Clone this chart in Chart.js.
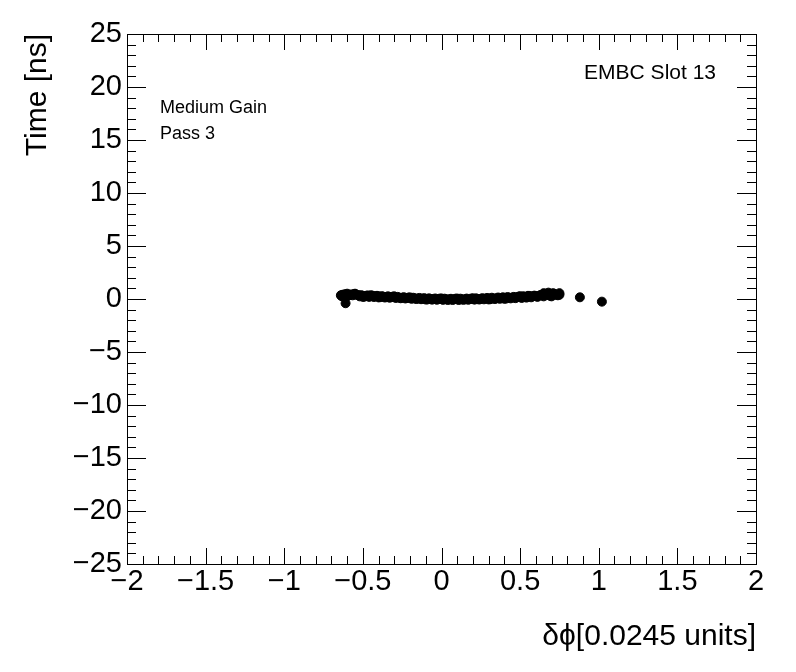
<!DOCTYPE html>
<html>
<head>
<meta charset="utf-8">
<title>EMBC Slot 13</title>
<script src="https://cdn.jsdelivr.net/npm/chart.js@4.4.1/dist/chart.umd.min.js"></script>
<style>
  html, body { margin: 0; padding: 0; background: #fff; }
  canvas { display: block; }
</style>
</head>
<body>
<canvas id="myChart" width="796" height="672"></canvas>
<script>
/* globals Chart:false */

// delta phi positions [0.0245 units]
const phiValues = [
  -0.64, -0.63, -0.62, -0.61, -0.6, -0.59, -0.58, -0.56, -0.55, -0.53,
  -0.5, -0.48, -0.45, -0.42, -0.4, -0.37, -0.35, -0.32, -0.3, -0.27,
  -0.25, -0.22, -0.2, -0.17, -0.15, -0.12, -0.1, -0.07, -0.05, -0.02,
  0, 0.03, 0.05, 0.08, 0.1, 0.13, 0.15, 0.18, 0.2, 0.23,
  0.25, 0.28, 0.3, 0.33, 0.35, 0.38, 0.4, 0.43, 0.45, 0.48,
  0.5, 0.53, 0.55, 0.58, 0.6, 0.62, 0.64, 0.66, 0.68, 0.7,
  0.71, 0.73, 0.75, 0.88, 1.02,
  // spread around the band
  -0.63, -0.61, -0.6, -0.55, -0.5, -0.45, -0.4, -0.3, -0.2, -0.1,
  0, 0.1, 0.2, 0.3, 0.4, 0.5, 0.55, 0.65, 0.68, 0.7, 0.72, 0.75,
  -0.635, -0.615, -0.595, -0.575, -0.565, -0.545, -0.52, -0.51, -0.49, -0.47,
  -0.46, -0.44, -0.43, -0.41, -0.39, -0.38, -0.36, -0.34, -0.33, -0.31,
  -0.29, -0.28, -0.26, -0.24, -0.23, -0.21, -0.19, -0.18, -0.16, -0.14,
  -0.13, -0.11, -0.09, -0.08, -0.06, -0.04, -0.03, -0.01, 0.01, 0.02,
  0.04, 0.06, 0.07, 0.09, 0.11, 0.12, 0.14, 0.16, 0.17, 0.19,
  0.21, 0.22, 0.24, 0.26, 0.27, 0.29, 0.31, 0.32, 0.34, 0.36,
  0.37, 0.39, 0.41, 0.42, 0.44, 0.46, 0.47, 0.49, 0.51, 0.52,
  0.54, 0.56, 0.57, 0.59, 0.61, 0.63, 0.65, 0.67, 0.69, 0.72, 0.74
]
// time [ns]
const timeValues = [
  0.35, 0.4, 0.3, 0.38, 0.42, 0.35, 0.4, 0.45, 0.48, 0.38,
  0.3, 0.3, 0.28, 0.27, 0.25, 0.22, 0.2, 0.18, 0.16, 0.14,
  0.12, 0.1, 0.08, 0.06, 0.05, 0.03, 0.02, 0.01, 0.0, -0.01,
  -0.02, -0.02, -0.03, -0.03, -0.03, -0.03, -0.02, -0.02, -0.01, 0.0,
  0.01, 0.03, 0.04, 0.05, 0.07, 0.08, 0.1, 0.12, 0.14, 0.16,
  0.18, 0.2, 0.22, 0.25, 0.28, 0.3, 0.35, 0.4, 0.5, 0.42,
  0.55, 0.4, 0.55, 0.16, -0.25,
  0.25, -0.4, 0.5, 0.5, 0.2, 0.35, 0.15, 0.25, 0.15, -0.05,
  0.05, 0.04, 0.06, -0.04, 0.02, 0.26, 0.3, 0.55, 0.6, 0.25, 0.45, 0.4,
  0.28, 0.45, 0.3, 0.42, 0.35, 0.4, 0.25, 0.36, 0.22, 0.34,
  0.2, 0.32, 0.19, 0.3, 0.17, 0.27, 0.14, 0.25, 0.12, 0.22,
  0.1, 0.2, 0.07, 0.17, 0.05, 0.14, 0.02, 0.12, 0.0, 0.1,
  -0.02, 0.08, -0.04, 0.06, -0.06, 0.05, -0.07, 0.04, -0.08, 0.03,
  -0.09, 0.02, -0.09, 0.03, -0.09, 0.03, -0.08, 0.04, -0.07, 0.05,
  -0.06, 0.06, -0.05, 0.08, -0.03, 0.1, -0.02, 0.12, 0.0, 0.14,
  0.02, 0.16, 0.04, 0.18, 0.06, 0.2, 0.08, 0.23, 0.1, 0.26,
  0.13, 0.29, 0.16, 0.32, 0.2, 0.38, 0.25, 0.5, 0.3, 0.45, 0.35
]

const xTickValues = [-2, -1.5, -1, -0.5, 0, 0.5, 1, 1.5, 2]
const yTickValues = [-25, -20, -15, -10, -5, 0, 5, 10, 15, 20, 25]

const labelLines = ['Medium Gain', 'Pass 3']
const slotLabel = 'EMBC Slot 13'

const FONT = '"Liberation Sans", Arial, Helvetica, sans-serif'
const minus = v => (v < 0 ? '\u2212' + Math.abs(v) : String(v))

const points = phiValues.map((x, i) => ({ x: x, y: timeValues[i] }))

// frame + inward ticks on all four sides, ROOT style
const frameTicks = {
  id: 'frameTicks',
  afterDraw(chart) {
    const { ctx, chartArea: a, scales: { x, y } } = chart
    ctx.save()
    ctx.strokeStyle = '#000'
    ctx.lineWidth = 1
    ctx.beginPath()
    for (let i = -20; i <= 20; i++) {
      const v = i / 10
      const px = Math.round(x.getPixelForValue(v)) + 0.5
      const len = i % 5 === 0 ? 16 : 8
      ctx.moveTo(px, a.bottom); ctx.lineTo(px, a.bottom - len)
      ctx.moveTo(px, a.top); ctx.lineTo(px, a.top + len)
    }
    for (let v = -25; v <= 25; v++) {
      const py = Math.round(y.getPixelForValue(v)) + 0.5
      const len = v % 5 === 0 ? 19 : 9
      ctx.moveTo(a.left, py); ctx.lineTo(a.left + len, py)
      ctx.moveTo(a.right, py); ctx.lineTo(a.right - len, py)
    }
    ctx.stroke()
    ctx.strokeRect(Math.round(a.left) + 0.5, Math.round(a.top) + 0.5,
      Math.round(a.right - a.left), Math.round(a.bottom - a.top))

    ctx.fillStyle = '#000'
    ctx.textBaseline = 'middle'
    ctx.textAlign = 'left'
    ctx.font = '18px ' + FONT
    ctx.fillText(labelLines[0], a.left + 33, 108)
    ctx.fillText(labelLines[1], a.left + 33, 134)
    ctx.font = '21px ' + FONT
    ctx.textAlign = 'right'
    ctx.fillText(slotLabel, a.right - 40, 73)
    ctx.restore()
  }
}

new Chart(document.getElementById('myChart'), {
  type: 'scatter',
  data: {
    datasets: [{
      data: points,
      backgroundColor: '#000',
      borderColor: '#000',
      pointRadius: 4.5,
      pointHoverRadius: 4.5
    }]
  },
  options: {
    responsive: false,
    animation: false,
    events: [],
    layout: { padding: { top: 34, right: 40, left: 0, bottom: 0 } },
    plugins: { legend: { display: false }, tooltip: { enabled: false } },
    scales: {
      x: {
        type: 'linear',
        min: -2,
        max: 2,
        afterFit: s => { s.height = 108 },
        afterBuildTicks: s => { s.ticks = xTickValues.map(v => ({ value: v })) },
        grid: { display: false, drawTicks: false },
        border: { display: false },
        ticks: {
          padding: 1,
          autoSkip: false,
          maxRotation: 0,
          color: '#000',
          font: { family: FONT, size: 29 },
          callback: minus
        },
        title: {
          display: true,
          text: '\u03b4\u03d5[0.0245 units]',
          align: 'end',
          color: '#000',
          font: { family: FONT, size: 30 },
          padding: { top: 0, bottom: 17 }
        }
      },
      y: {
        type: 'linear',
        min: -25,
        max: 25,
        afterFit: s => { s.width = 127 },
        afterBuildTicks: s => { s.ticks = yTickValues.map(v => ({ value: v })) },
        grid: { display: false, drawTicks: false },
        border: { display: false },
        ticks: {
          padding: 5,
          color: '#000',
          font: { family: FONT, size: 29 },
          callback: minus
        },
        title: {
          display: true,
          text: 'Time [ns]',
          align: 'end',
          color: '#000',
          font: { family: FONT, size: 30 },
          padding: { top: 20, bottom: 0 }
        }
      }
    }
  },
  plugins: [frameTicks]
})
</script>
</body>
</html>
